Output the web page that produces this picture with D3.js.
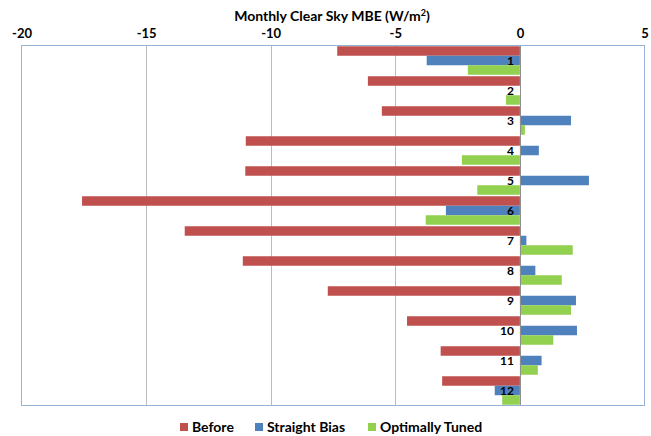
<!DOCTYPE html>
<html>
<head>
<meta charset="utf-8">
<script src="https://cdn.jsdelivr.net/npm/d3@7"></script>
<style>
  body { margin: 0; background: #fff; }
  svg text { font-family: Lato, "Open Sans", "Liberation Sans", sans-serif; font-weight: bold; fill: #000; }
</style>
</head>
<body>
<div id="chart"></div>
<script>
var months = ["1","2","3","4","5","6","7","8","9","10","11","12"];
var seriesNames = ["Before", "Straight Bias", "Optimally Tuned"];
var colors = ["#c0504d", "#4f81bd", "#92d050"];
var before = [-7.33, -6.10, -5.54, -11.0, -11.02, -17.57, -13.45, -11.12, -7.71, -4.53, -3.18, -3.12];
var straightBias = [-3.74, 0, 2.05, 0.76, 2.77, -2.97, 0.26, 0.62, 2.25, 2.29, 0.87, -1.01];
var optimallyTuned = [-2.09, -0.56, 0.20, -2.33, -1.71, -3.78, 2.12, 1.68, 2.05, 1.34, 0.72, -0.71];
var xTicks = [-20, -15, -10, -5, 0, 5];

var W = 651, H = 436;
var plotL = 21.5, plotR = 644.5, plotT = 45.5, plotB = 405.5;

var svg = d3.select("#chart").append("svg")
    .attr("width", W).attr("height", H);

var x = d3.scaleLinear().domain([-20, 5]).range([plotL, plotR]);
var y = d3.scaleBand().domain(months).range([plotT, plotB])
    .paddingInner(0.05).paddingOuter(0.025);
var ySub = d3.scaleBand().domain(seriesNames).range([0, y.bandwidth()]);

// gridlines
svg.selectAll("line.grid")
    .data(xTicks.filter(function(d) { return d > -20 && d < 5 && d != 0; }))
    .enter().append("line")
    .attr("class", "grid")
    .attr("x1", function(d) { return Math.round(x(d)) + 0.5; })
    .attr("x2", function(d) { return Math.round(x(d)) + 0.5; })
    .attr("y1", plotT).attr("y2", plotB)
    .style("stroke", "#bcbcbc")
    .style("stroke-width", 1);

// bars
var data = [];
months.forEach(function(m, i) {
    [before, straightBias, optimallyTuned].forEach(function(s, j) {
        data.push({month: m, series: seriesNames[j], value: s[i], color: colors[j]});
    });
});

svg.selectAll("rect.bar")
    .data(data)
    .enter().append("rect")
    .attr("class", "bar")
    .attr("x", function(d) { return x(Math.min(0, d.value)); })
    .attr("width", function(d) { return Math.abs(x(d.value) - x(0)); })
    .attr("y", function(d) { return y(d.month) + ySub(d.series); })
    .attr("height", ySub.bandwidth())
    .attr("fill", function(d) { return d.color; });

// zero axis line
svg.append("line")
    .attr("x1", Math.round(x(0)) + 0.5).attr("x2", Math.round(x(0)) + 0.5)
    .attr("y1", plotT).attr("y2", plotB)
    .style("stroke", "#909090");

// plot border
svg.append("rect")
    .attr("x", plotL).attr("y", plotT)
    .attr("width", plotR - plotL).attr("height", plotB - plotT)
    .attr("fill", "none")
    .style("stroke", "#95b3d7")
    .style("stroke-width", 1);

// month labels
svg.selectAll("text.cat")
    .data(months)
    .enter().append("text")
    .attr("class", "cat")
    .attr("x", x(0) - 6)
    .attr("y", function(d) { return y(d) + y.bandwidth() / 2; })
    .attr("dy", "0.35em")
    .attr("text-anchor", "end")
    .style("font-size", "12px")
    .text(function(d) { return d; });

// top axis labels
var axis = d3.axisTop(x).tickValues(xTicks).tickSize(0).tickPadding(0)
    .tickFormat(function(d) { return String(d); });
var g = svg.append("g")
    .attr("transform", "translate(0," + 38 + ")")
    .call(axis);
g.select(".domain").remove();
g.selectAll("text")
    .style("font-size", "13px")
    .style("font-family", "Lato, 'Open Sans', sans-serif")
    .style("font-weight", "bold");

// title
var title = svg.append("text")
    .attr("x", 332).attr("y", 21)
    .attr("text-anchor", "middle")
    .style("font-size", "14px");
title.append("tspan").text("Monthly Clear Sky MBE (W/m");
title.append("tspan").attr("dy", -5).style("font-size", "9px").text("2");
title.append("tspan").attr("dy", 5).text(")");

// legend
var legendX = [180, 255, 368];
var lg = svg.selectAll("g.legend")
    .data(seriesNames)
    .enter().append("g")
    .attr("class", "legend")
    .attr("transform", function(d, i) { return "translate(" + legendX[i] + ",427)"; });
lg.append("rect")
    .attr("x", 0).attr("y", -4)
    .attr("width", 8).attr("height", 8)
    .attr("fill", function(d, i) { return colors[i]; });
lg.append("text")
    .attr("x", 12).attr("y", 0)
    .attr("dy", "0.35em")
    .style("font-size", "14px")
    .text(function(d) { return d; });
</script>
</body>
</html>
